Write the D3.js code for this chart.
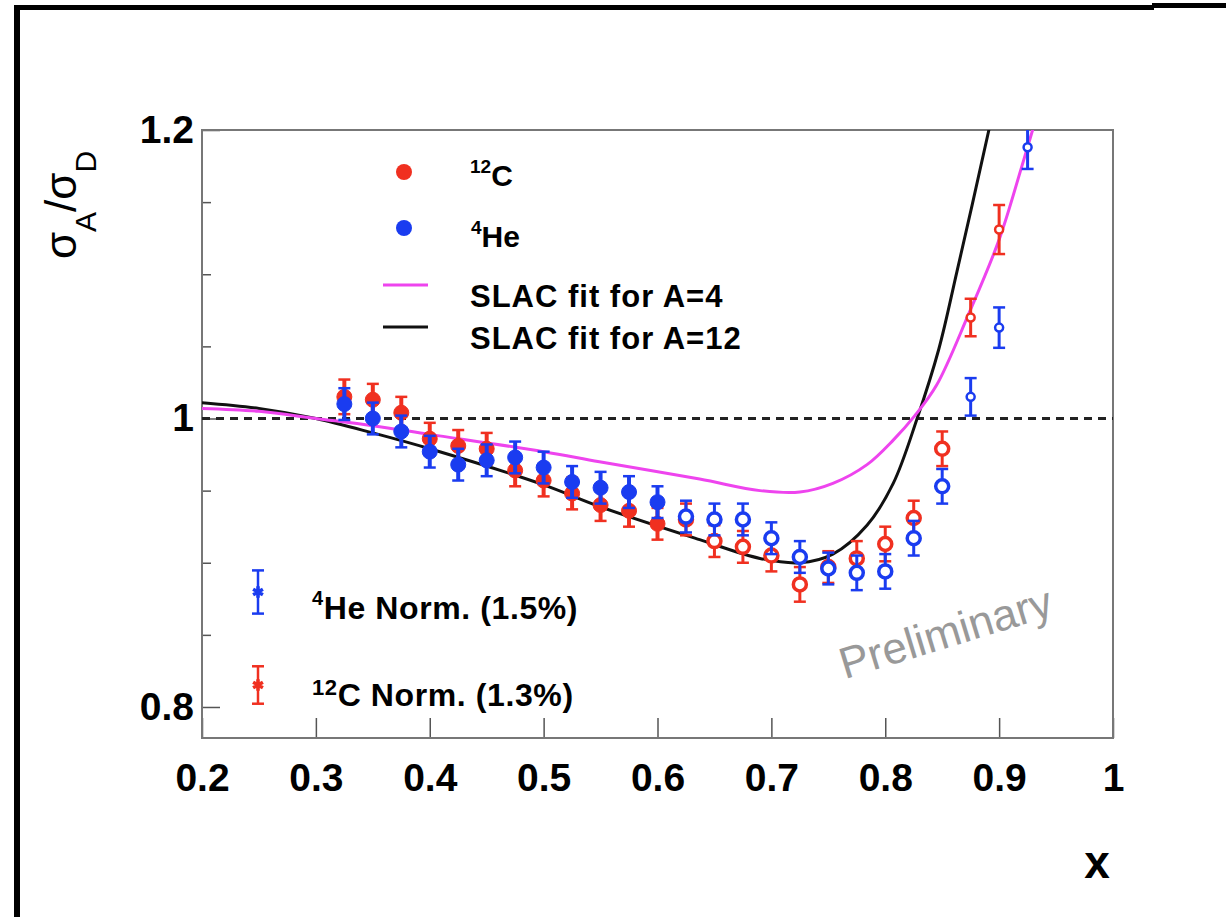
<!doctype html>
<html lang="en">
  <head>
    <meta charset="utf-8">
    <title>sigma_A / sigma_D</title>
    <script src="https://d3js.org/d3.v7.min.js"></script>
    <style>
      body { margin: 0; background: #fff; }
      svg { display: block; font-family: "Liberation Sans", Arial, Helvetica, sans-serif; }
    </style>
  </head>
  <body>
    <div class="visholder"></div>
    <script>
      // x values of the measured points
      const xPoints = [0.325, 0.35, 0.375, 0.4, 0.425, 0.45, 0.475, 0.5, 0.525, 0.55, 0.575, 0.6,
                       0.625, 0.65, 0.675, 0.7, 0.725, 0.75, 0.775, 0.8, 0.825, 0.85, 0.875, 0.9, 0.925];
      // 12C ratio and error (last point off scale)
      const carbon = [1.015, 1.013, 1.004, 0.986, 0.981, 0.979, 0.964, 0.957, 0.948, 0.940, 0.936, 0.927,
                      0.930, 0.915, 0.911, 0.905, 0.885, 0.897, 0.903, 0.913, 0.931, 0.979, 1.070, 1.131, null];
      const carbonErr = [0.012, 0.011, 0.011, 0.011, 0.011, 0.011, 0.011, 0.011, 0.011, 0.011, 0.011, 0.011,
                         0.011, 0.011, 0.011, 0.011, 0.012, 0.011, 0.012, 0.012, 0.012, 0.012, 0.013, 0.017, null];
      // 4He ratio and error
      const helium = [1.010, 1.000, 0.991, 0.977, 0.968, 0.971, 0.973, 0.966, 0.956, 0.952, 0.949, 0.942,
                      0.932, 0.930, 0.930, 0.917, 0.904, 0.896, 0.893, 0.894, 0.917, 0.953, 1.015, 1.063, 1.188];
      const heliumErr = [0.011, 0.011, 0.011, 0.011, 0.011, 0.011, 0.011, 0.011, 0.011, 0.011, 0.011, 0.011,
                         0.011, 0.011, 0.011, 0.011, 0.011, 0.011, 0.012, 0.012, 0.012, 0.012, 0.013, 0.014, 0.015];

      // SLAC fits
      const fitA4X = [0.2, 0.25, 0.3, 0.35, 0.4, 0.5, 0.549, 0.637, 0.69, 0.725, 0.754, 0.784, 0.807, 0.826, 0.845, 0.873, 0.9, 0.92, 0.935];
      const fitA4Y = [1.007, 1.005, 1.0, 0.995, 0.989, 0.977, 0.970, 0.958, 0.950, 0.949, 0.955, 0.968, 0.985, 1.002, 1.023, 1.072, 1.124, 1.175, 1.215];
      const fitA12X = [0.2, 0.25, 0.3, 0.35, 0.4, 0.5, 0.549, 0.637, 0.69, 0.725, 0.754, 0.784, 0.807, 0.828, 0.847, 0.863, 0.891, 0.9];
      const fitA12Y = [1.011, 1.007, 1.0, 0.99, 0.979, 0.954, 0.939, 0.916, 0.903, 0.900, 0.906, 0.926, 0.955, 1.0, 1.048, 1.102, 1.2, 1.235];

      const xTicks = [0.2, 0.3, 0.4, 0.5, 0.6, 0.7, 0.8, 0.9, 1.0];
      const yTicks = [0.8, 1.0, 1.2];
      const yMinor = [0.85, 0.9, 0.95, 1.05, 1.1, 1.15];

      const w = 1226;
      const h = 917;
      const pLeft = 202, pRight = 1113, pTop = 130, pBottom = 738;

      const svg = d3.select('.visholder')
        .append('svg')
        .attr('width', w)
        .attr('height', h);

      // scanned slide frame
      svg.append('rect').attr('x', 14).attr('y', 6).attr('width', 6).attr('height', h - 6).attr('fill', '#000');
      svg.append('rect').attr('x', 14).attr('y', 5).attr('width', 1140).attr('height', 5).attr('fill', '#000');
      svg.append('rect').attr('x', 1152).attr('y', 3).attr('width', 74).attr('height', 5).attr('fill', '#000');

      const xScale = d3.scaleLinear().domain([0.2, 1.0]).range([pLeft, pRight]);
      const yScale = d3.scaleLinear().domain([0.7785, 1.2]).range([pBottom, pTop]);

      svg.append('clipPath').attr('id', 'plotclip')
        .append('rect').attr('x', pLeft).attr('y', pTop).attr('width', pRight - pLeft).attr('height', pBottom - pTop);

      // Axes
      const xAxis = d3.axisBottom(xScale).tickValues(xTicks).tickFormat(d3.format('')).tickSizeInner(-20).tickSizeOuter(0).tickPadding(25);
      const yAxis = d3.axisLeft(yScale).tickValues(yTicks).tickFormat(d3.format('')).tickSizeInner(-18).tickSizeOuter(0).tickPadding(8);
      const yAxisMinor = d3.axisLeft(yScale).tickValues(yMinor).tickFormat('').tickSizeInner(-9).tickSizeOuter(0);

      const gx = svg.append('g').attr('transform', 'translate(0,' + pBottom + ')').call(xAxis);
      const gy = svg.append('g').attr('transform', 'translate(' + pLeft + ',0)').call(yAxis);
      const gym = svg.append('g').attr('transform', 'translate(' + pLeft + ',0)').call(yAxisMinor);
      [gx, gy, gym].forEach(g => {
        g.select('.domain').remove();
        g.selectAll('line').attr('stroke', '#555').attr('stroke-width', 1.5);
        g.selectAll('text').attr('fill', '#000').attr('font-size', 39).attr('font-weight', 'bold')
          .attr('font-family', '"Liberation Sans", Arial, sans-serif');
      });

      // plot frame
      svg.append('rect')
        .attr('x', pLeft).attr('y', pTop).attr('width', pRight - pLeft).attr('height', pBottom - pTop)
        .attr('fill', 'none').attr('stroke', '#777').attr('stroke-width', 2);

      // dashed line at 1
      svg.append('line')
        .attr('x1', xScale(0.2)).attr('x2', xScale(1.0))
        .attr('y1', yScale(1)).attr('y2', yScale(1))
        .attr('stroke', '#222').attr('stroke-width', 3).attr('stroke-dasharray', '8,6');

      // fit curves
      const line = d3.line().x(d => xScale(d[0])).y(d => yScale(d[1])).curve(d3.curveCatmullRom.alpha(0.5));
      const plot = svg.append('g').attr('clip-path', 'url(#plotclip)');
      plot.append('path').datum(fitA12X.map((v, i) => [v, fitA12Y[i]]))
        .attr('d', line).attr('fill', 'none').attr('stroke', '#111').attr('stroke-width', 3);
      plot.append('path').datum(fitA4X.map((v, i) => [v, fitA4Y[i]]))
        .attr('d', line).attr('fill', 'none').attr('stroke', '#ee44ee').attr('stroke-width', 3);

      // data points
      function drawSeries(vals, errs, color) {
        const pts = xPoints.map((x, i) => ({ x: x, v: vals[i], e: errs[i] })).filter(d => d.v != null);
        const g = plot.append('g');
        const grp = g.selectAll('g').data(pts).enter().append('g')
          .attr('transform', d => 'translate(' + xScale(d.x) + ',0)');
        grp.append('line')
          .attr('y1', d => yScale(d.v - d.e)).attr('y2', d => yScale(d.v + d.e))
          .attr('stroke', color).attr('stroke-width', d => d.x <= 0.6 ? 4 : 3);
        grp.append('line').attr('x1', -6).attr('x2', 6)
          .attr('y1', d => yScale(d.v + d.e)).attr('y2', d => yScale(d.v + d.e))
          .attr('stroke', color).attr('stroke-width', 2.5);
        grp.append('line').attr('x1', -6).attr('x2', 6)
          .attr('y1', d => yScale(d.v - d.e)).attr('y2', d => yScale(d.v - d.e))
          .attr('stroke', color).attr('stroke-width', 2.5);
        grp.append('circle')
          .attr('cy', d => yScale(d.v))
          .attr('r', d => d.x <= 0.6 ? 7.5 : (d.x >= 0.87 ? 4 : 6.5))
          .attr('fill', d => d.x <= 0.6 ? color : '#fff')
          .attr('stroke', color)
          .attr('stroke-width', d => d.x <= 0.6 ? 1 : (d.x >= 0.87 ? 2.5 : 3.5));
      }
      drawSeries(carbon, carbonErr, '#f03020');
      drawSeries(helium, heliumErr, '#1a3cf0');

      // legend (top)
      const lg = svg.append('g').attr('font-weight', 'bold').attr('fill', '#000');
      lg.append('circle').attr('cx', 404).attr('cy', 172).attr('r', 8).attr('fill', '#f03020');
      lg.append('circle').attr('cx', 404).attr('cy', 228).attr('r', 8).attr('fill', '#1a3cf0');
      lg.append('line').attr('x1', 383).attr('x2', 428).attr('y1', 285).attr('y2', 285).attr('stroke', '#ee44ee').attr('stroke-width', 3);
      lg.append('line').attr('x1', 383).attr('x2', 428).attr('y1', 327).attr('y2', 327).attr('stroke', '#111').attr('stroke-width', 3);

      const t1 = lg.append('text').attr('x', 470).attr('y', 186).attr('font-size', 30);
      t1.append('tspan').attr('font-size', 19).attr('dy', -13).text('12');
      t1.append('tspan').attr('dy', 13).text('C');
      const t2 = lg.append('text').attr('x', 471).attr('y', 247).attr('font-size', 30);
      t2.append('tspan').attr('font-size', 19).attr('dy', -13).text('4');
      t2.append('tspan').attr('dy', 13).text('He');
      lg.append('text').attr('x', 470).attr('y', 307).attr('font-size', 31).attr('letter-spacing', 1).text('SLAC fit for A=4');
      lg.append('text').attr('x', 470).attr('y', 349).attr('font-size', 31).attr('letter-spacing', 1).text('SLAC fit for A=12');

      // normalisation legend (bottom)
      function normBar(cy, err, color) {
        const g = svg.append('g');
        g.append('line').attr('x1', 258).attr('x2', 258).attr('y1', cy - err * 1440).attr('y2', cy + err * 1440)
          .attr('stroke', color).attr('stroke-width', 2.5);
        [-1, 1].forEach(s => g.append('line').attr('x1', 252).attr('x2', 264)
          .attr('y1', cy + s * err * 1440).attr('y2', cy + s * err * 1440).attr('stroke', color).attr('stroke-width', 2.5));
        g.append('path').attr('d', d3.symbol(d3.symbolAsterisk, 90)()).attr('transform', 'translate(258,' + cy + ')')
          .attr('stroke', color).attr('stroke-width', 3.5).attr('fill', color);
      }
      normBar(592, 0.015, '#1a3cf0');
      normBar(685, 0.013, '#f03020');
      const n1 = svg.append('text').attr('x', 312).attr('y', 619).attr('font-size', 32).attr('font-weight', 'bold').attr('letter-spacing', 0.6);
      n1.append('tspan').attr('font-size', 20).attr('dy', -14).text('4');
      n1.append('tspan').attr('dy', 14).text('He Norm. (1.5%)');
      const n2 = svg.append('text').attr('x', 312).attr('y', 706).attr('font-size', 32).attr('font-weight', 'bold').attr('letter-spacing', 0.6);
      n2.append('tspan').attr('font-size', 22).attr('dy', -11).text('12');
      n2.append('tspan').attr('dy', 11).text('C Norm. (1.3%)');

      // Preliminary
      svg.append('text')
        .attr('transform', 'translate(950,647) rotate(-17)')
        .attr('text-anchor', 'middle')
        .attr('font-size', 44).attr('fill', '#999')
        .text('Preliminary');

      // axis titles
      svg.append('text').attr('x', 1097).attr('y', 878).attr('text-anchor', 'middle')
        .attr('font-size', 46).attr('font-weight', 'bold').text('x');

      const yl = svg.append('text')
        .attr('transform', 'translate(76,205) rotate(-90)')
        .attr('text-anchor', 'middle').attr('font-size', 44);
      yl.append('tspan').text('σ');
      yl.append('tspan').attr('font-size', 30).attr('dy', 20).text('A');
      yl.append('tspan').attr('dy', -20).text('/σ');
      yl.append('tspan').attr('font-size', 30).attr('dy', 20).text('D');
    </script>
  </body>
</html>
